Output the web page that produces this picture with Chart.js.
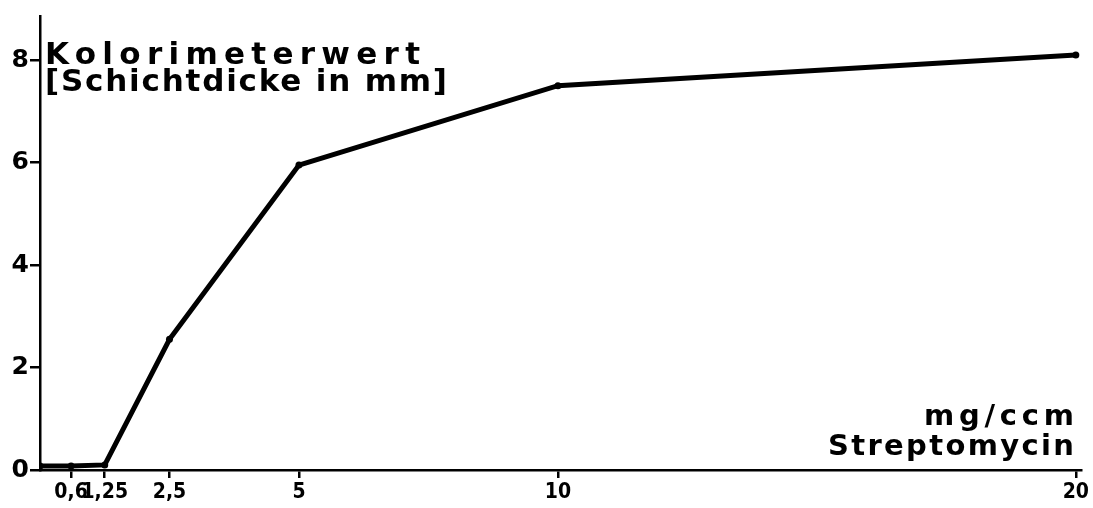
<!DOCTYPE html>
<html>
<head>
<meta charset="utf-8">
<script src="https://cdn.jsdelivr.net/npm/chart.js@4/dist/chart.umd.min.js"></script>
<style>
html,body{margin:0;padding:0;background:#fff;}
#wrap{width:1093px;height:508px;position:relative;}
</style>
</head>
<body>
<div id="wrap"><canvas id="chart"></canvas></div>
<script>
// Streptomycin concentration (mg/ccm) vs Kolorimeterwert (mm)
const concentrations=[0,0.6,1.25,2.5,5,10,20];
const colorimeterValues=[0.08,0.08,0.1,2.55,5.95,7.5,8.1];
const xTicks=[0.6,1.25,2.5,5,10,20];
const xTickLabels=["0,6","1,25","2,5","5","10","20"];
const yTicks=[0,2,4,6,8];
const yTitle=["Kolorimeterwert","[Schichtdicke in mm]"];
const xTitle=["mg/ccm","Streptomycin"];

const points=concentrations.map((x,i)=>({x:x,y:colorimeterValues[i]}));

// draws text stretched to a target width with letter spacing
function spacedText(ctx,text,x,y,width,align){
    ctx.letterSpacing="0px";
    const w=ctx.measureText(text).width;
    const sp=Math.max(0,(width-w)/(text.length-1));
    ctx.letterSpacing=sp+"px";
    if(align==="right") x=x-width;
    ctx.textAlign="left";
    ctx.fillText(text,x,y);
    ctx.letterSpacing="0px";
}

const labelsPlugin={
    id:"labels",
    afterDraw(chart){
        const ctx=chart.ctx;
        ctx.save();
        ctx.fillStyle="#000";
        ctx.textBaseline="alphabetic";
        ctx.font="bold 31px 'DejaVu Sans'";
        spacedText(ctx,yTitle[0],45,64,375,"left");
        spacedText(ctx,yTitle[1],45,91,402,"left");
        ctx.font="bold 29px 'DejaVu Sans'";
        spacedText(ctx,xTitle[0],1074,425,150,"right");
        spacedText(ctx,xTitle[1],1074,455,246,"right");
        ctx.restore();
    }
};

const ctx=document.getElementById("chart").getContext("2d");
new Chart(ctx,{
    type:"line",
    data:{
        datasets:[{
            data:points,
            borderColor:"#000",
            backgroundColor:"#000",
            borderWidth:5,
            pointRadius:3.5,
            pointBorderWidth:0,
            tension:0,
            fill:false
        }]
    },
    options:{
        responsive:true,
        maintainAspectRatio:false,
        animation:false,
        layout:{padding:{top:8,right:12,left:0,bottom:0}},
        plugins:{legend:{display:false},tooltip:{enabled:false}},
        scales:{
            x:{
                type:"linear",
                min:0,
                max:20.1,
                afterBuildTicks:s=>{s.ticks=xTicks.map(v=>({value:v}));},
                afterFit:s=>{s.height=38;},
                ticks:{
                    autoSkip:false,
                    maxRotation:0,
                    color:"#000",
                    padding:2,
                    font:{family:"'Liberation Sans Narrow','DejaVu Sans Condensed','DejaVu Sans'",size:21,weight:"bold"},
                    callback:(v,i)=>xTickLabels[i]
                },
                grid:{drawOnChartArea:false,drawTicks:true,tickLength:8,color:"#000",lineWidth:2.5},
                border:{display:true,color:"#000",width:2.5}
            },
            y:{
                min:0,
                max:8.86,
                afterBuildTicks:s=>{s.ticks=yTicks.map(v=>({value:v}));},
                afterFit:s=>{s.width=40;},
                ticks:{
                    color:"#000",
                    padding:1,
                    font:{family:"'DejaVu Sans'",size:25,weight:"bold"},
                    callback:v=>String(v)
                },
                grid:{drawOnChartArea:false,drawTicks:true,tickLength:10,color:"#000",lineWidth:2.5},
                border:{display:true,color:"#000",width:2.5}
            }
        }
    },
    plugins:[labelsPlugin]
});
</script>
</body>
</html>
